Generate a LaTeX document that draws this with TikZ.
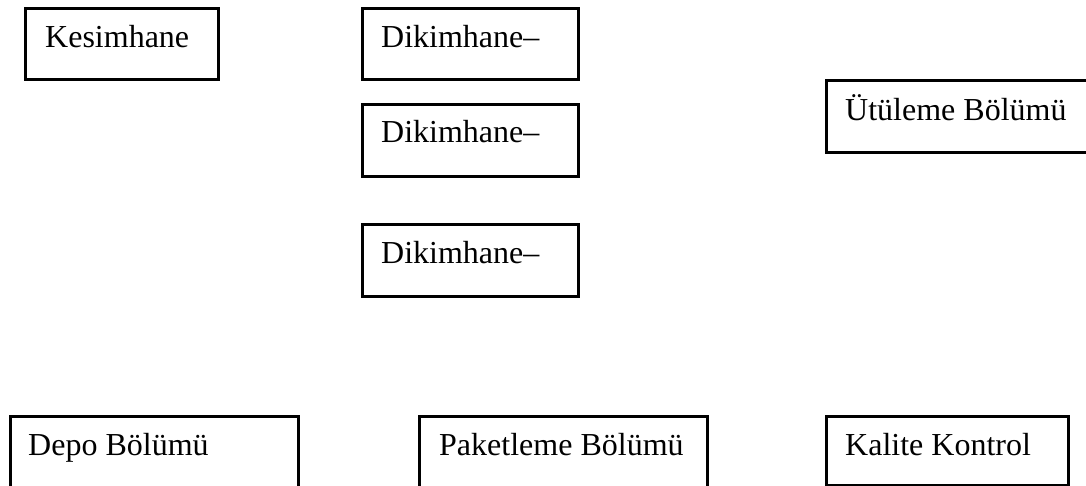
\documentclass[tikz,border=0pt]{standalone}
\usepackage{fontspec}
\setmainfont{Liberation Serif}
\begin{document}
\begin{tikzpicture}[x=1pt, y=-1pt,
  unit/.style={draw=black, line width=3.3pt, rectangle, inner sep=0pt, anchor=north west},
  caption/.style={anchor=base west, inner sep=0pt, font=\fontsize{32}{38}\selectfont}]
\useasboundingbox (0,0) rectangle (1086,486);
\clip (0,0) rectangle (1086,486);
% department boxes
\node[unit, minimum width=193pt, minimum height=71pt] (kes) at (24,7) {};
\node[unit, minimum width=216pt, minimum height=71pt] (dik1) at (361,7) {};
\node[unit, minimum width=216pt, minimum height=72pt] (dik2) at (361,103) {};
\node[unit, minimum width=216pt, minimum height=72pt] (dik3) at (361,223) {};
\node[unit, minimum width=300pt, minimum height=72pt] (utu) at (825,79) {};
\node[unit, minimum width=288pt, minimum height=120pt] (depo) at (9,415) {};
\node[unit, minimum width=288pt, minimum height=120pt] (paket) at (418,415) {};
\node[unit, minimum width=242pt, minimum height=69pt] (kal) at (825,415) {};
% department names
\node[caption] (kesT) at (45,48) {Kesimhane};
\node[caption] (dik1T) at (381,48) {Dikimhane–};
\node[caption] (dik2T) at (381,143) {Dikimhane–};
\node[caption] (dik3T) at (381,264) {Dikimhane–};
\node[caption] (utuT) at (845,121) {Ütüleme Bölümü};
\node[caption] (depoT) at (28,455) {Depo Bölümü};
\node[caption] (paketT) at (439,455) {Paketleme Bölümü};
\node[caption] (kalT) at (845,455) {Kalite Kontrol};
\end{tikzpicture}
\end{document}
